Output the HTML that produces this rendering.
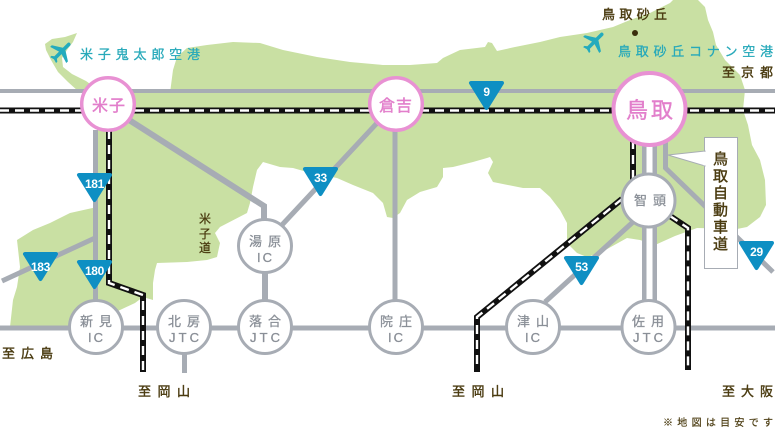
<!DOCTYPE html>
<html><head><meta charset="utf-8">
<style>
html,body{margin:0;padding:0;background:#fff;}
svg{display:block;}
text{font-family:"Liberation Sans","Noto Sans CJK JP",sans-serif;}
</style></head>
<body>
<svg width="775" height="427" viewBox="0 0 775 427" xmlns="http://www.w3.org/2000/svg">
<rect width="775" height="427" fill="#fff"/>
<!-- land -->
<g fill="#c9e0a3">
<path d="M97,93 L170,93 L173,70 L177,57 L187,48 L207,45 L233,42 L260,43 L283,50 L317,57 L350,62 L383,65 L410,65 L437,63 L443,58 L460,50 L485,47 L488,42 L492,43 L497,51 L515,47 L540,42 L560,37 L587,33 L613,27 L630,20 L650,13 L670,3 L673,0 L698,0 L705,7 L708,20 L713,32 L716,45 L725,60 L740,75 L745,90 L743,110 L748,125 L752,145 L760,160 L765,180 L766,205 L760,217 L747,227 L737,229 L697,228 L675,236 L655,245 L640,240 L627,238 L600,253 L587,257 L577,253 L567,243 L567,223 L560,210 L550,197 L540,188 L523,188 L493,182 L488,173 L493,162 L490,157 L487,158 L473,162 L453,167 L443,168 L443,177 L437,187 L420,192 L407,200 L400,213 L393,218 L387,217 L383,203 L373,193 L353,185 L337,178 L307,172 L293,168 L280,167 L263,162 L257,170 L253,187 L250,203 L247,213 L220,227 L215,233 L220,243 L217,257 L207,260 L187,262 L157,263 L155,270 L153,283 L153,300 L143,297 L135,303 L120,310 L100,320 L67,327 L10,327 L13,300 L17,287 L20,267 L17,240 L33,230 L50,223 L70,213 L97,207 Z"/>
<path d="M45,44 L52,39 L65,37 L77,33 L73,42 L67,50 L62,58 L63,67 L72,74 L86,81 L100,91 L78,91 L68,82 L58,72 L51,60 L46,50 Z"/>
</g>
<!-- roads -->
<g stroke="#a7acb4" fill="none" stroke-linejoin="miter">
<path d="M0,91 H775" stroke-width="4"/>
<path d="M0,328 H775" stroke-width="5"/>
<path d="M95.5,130 V300" stroke-width="5"/>
<path d="M2,281 L95,238" stroke-width="5"/>
<path d="M126,118 L264,206 V222" stroke-width="6"/>
<path d="M378,122 L281,226" stroke-width="5"/>
<path d="M395,130 V300" stroke-width="5"/>
<path d="M265,270 V302" stroke-width="6"/>
<path d="M184.5,350 V373" stroke-width="5"/>
<path d="M665.5,140 V168 L773,272" stroke-width="5"/>
<path d="M633,222 L545,302" stroke-width="5"/>
<path d="M649.5,140 V302" stroke-width="15"/>
</g>
<path d="M649.5,140 V302" stroke="#fff" stroke-width="6"/>
<!-- railways -->
<g fill="none" stroke-linejoin="miter">
<g stroke="#111" stroke-width="6">
<path d="M0,110.5 H775"/>
<path d="M109,130 V283 L143,295 V372"/>
<path d="M633,140 V185"/>
<path d="M622,199 L477,317 V372"/>
<path d="M670,216 L688,228 V370"/>
</g>
<g stroke="#fff" stroke-width="2.4" stroke-dasharray="9 6">
<path d="M0,110.5 H775"/>
<path d="M109,130 V283 L143,295 V370"/>
<path d="M633,140 V185"/>
<path d="M622,199 L477,317 V370"/>
<path d="M670,216 L688,228 V368"/>
</g>
</g>
<!-- callout -->
<rect x="704.5" y="137.5" width="33" height="131" fill="#fff" stroke="#a7acb4" stroke-width="1"/>
<polygon points="668,155 705,151 705,166" fill="#fff" stroke="#a7acb4" stroke-width="1"/>
<rect x="703.5" y="151.8" width="2" height="13.6" fill="#fff"/>
<g fill="#4a3b10" stroke="#4a3b10" stroke-width="0.4" font-size="15" text-anchor="middle">
<text x="720.5" y="164">鳥</text>
<text x="720.5" y="181">取</text>
<text x="720.5" y="198">自</text>
<text x="720.5" y="215">動</text>
<text x="720.5" y="232">車</text>
<text x="720.5" y="249">道</text>
</g>
<!-- circles -->
<g fill="#fff" stroke="#a7acb4" stroke-width="3">
<circle cx="648.5" cy="200.5" r="26.5"/>
<circle cx="96" cy="327" r="26.5"/>
<circle cx="184" cy="327" r="26.5"/>
<circle cx="265" cy="327" r="26.5"/>
<circle cx="265" cy="246" r="26.5"/>
<circle cx="396" cy="327" r="26.5"/>
<circle cx="533" cy="327" r="26.5"/>
<circle cx="648.5" cy="327" r="26.5"/>
</g>
<g fill="#fff" stroke="#e891d3">
<circle cx="108" cy="104" r="26.3" stroke-width="3.5"/>
<circle cx="396" cy="104" r="26.3" stroke-width="3.5"/>
<circle cx="649.5" cy="109" r="36" stroke-width="4"/>
</g>
<!-- pink labels -->
<g fill="#e27fcb" stroke="#e27fcb" stroke-width="0.4">
<text x="92" y="111" font-size="16" textLength="33" lengthAdjust="spacing">米子</text>
<text x="379" y="111" font-size="16" textLength="33" lengthAdjust="spacing">倉吉</text>
<text x="626" y="118" font-size="22" textLength="47" lengthAdjust="spacing">鳥取</text>
</g>
<!-- gray labels -->
<g fill="#8a8f97" stroke="#8a8f97" stroke-width="0.3" font-size="13">
<text x="634" y="205" textLength="32" lengthAdjust="spacing">智頭</text>
<text x="80" y="326" textLength="32" lengthAdjust="spacing">新見</text>
<text x="88" y="342" textLength="15" lengthAdjust="spacing">IC</text>
<text x="168" y="326" textLength="32" lengthAdjust="spacing">北房</text>
<text x="169" y="342" textLength="30" lengthAdjust="spacing">JTC</text>
<text x="249" y="326" textLength="32" lengthAdjust="spacing">落合</text>
<text x="250" y="342" textLength="30" lengthAdjust="spacing">JTC</text>
<text x="249" y="246" textLength="32" lengthAdjust="spacing">湯原</text>
<text x="257" y="262" textLength="15" lengthAdjust="spacing">IC</text>
<text x="380" y="326" textLength="32" lengthAdjust="spacing">院庄</text>
<text x="388" y="342" textLength="15" lengthAdjust="spacing">IC</text>
<text x="517" y="326" textLength="32" lengthAdjust="spacing">津山</text>
<text x="525" y="342" textLength="15" lengthAdjust="spacing">IC</text>
<text x="632" y="326" textLength="32" lengthAdjust="spacing">佐用</text>
<text x="633" y="342" textLength="30" lengthAdjust="spacing">JTC</text>
</g>
<!-- route markers -->
<g fill="#0e8fc3" stroke="#0e8fc3" stroke-width="4" stroke-linejoin="round">
<polygon points="79,175 110,175 94.5,200"/>
<polygon points="25,254 56,254 40.5,279"/>
<polygon points="79,262 110,262 94.5,287"/>
<polygon points="305,169 336,169 320.5,194"/>
<polygon points="471,83 502,83 486.5,108"/>
<polygon points="566,258 597,258 581.5,283"/>
<polygon points="741,243 772,243 756.5,268"/>
</g>
<g fill="#fff" font-size="12" font-weight="bold" text-anchor="middle" letter-spacing="-0.3">
<text x="94.5" y="188">181</text>
<text x="40.5" y="271">183</text>
<text x="94.5" y="275">180</text>
<text x="320.5" y="182">33</text>
<text x="486.5" y="96">9</text>
<text x="581.5" y="271">53</text>
<text x="756.5" y="256">29</text>
</g>
<!-- airplanes -->
<g fill="#24abbd">
<path transform="translate(62,52) rotate(45) scale(1.2) translate(-12,-12)" d="M21 16v-2l-8-5V3.5c0-.83-.67-1.5-1.5-1.5S10 2.67 10 3.5V9l-8 5v2l8-2.5V19l-2 1.5V22l3.5-1 3.5 1v-1.5L13 19v-5.5l8 2.5z"/>
<path transform="translate(595,42) rotate(45) scale(1.2) translate(-12,-12)" d="M21 16v-2l-8-5V3.5c0-.83-.67-1.5-1.5-1.5S10 2.67 10 3.5V9l-8 5v2l8-2.5V19l-2 1.5V22l3.5-1 3.5 1v-1.5L13 19v-5.5l8 2.5z"/>
</g>
<!-- teal labels -->
<g fill="#27a9ba" stroke="#27a9ba" stroke-width="0.3" font-size="13">
<text x="80" y="59" textLength="120" lengthAdjust="spacing">米子鬼太郎空港</text>
<text x="618" y="56" textLength="155" lengthAdjust="spacing">鳥取砂丘コナン空港</text>
</g>
<!-- brown labels -->
<circle cx="635" cy="33" r="3" fill="#3a2e0c"/>
<g fill="#4a3b10" stroke="#4a3b10" stroke-width="0.4" font-size="13">
<text x="602" y="19" textLength="65" lengthAdjust="spacing">鳥取砂丘</text>
<text x="722" y="77" textLength="51" lengthAdjust="spacing">至京都</text>
<text x="2" y="358" textLength="51" lengthAdjust="spacing">至広島</text>
<text x="138" y="396" textLength="52" lengthAdjust="spacing">至岡山</text>
<text x="452" y="396" textLength="52" lengthAdjust="spacing">至岡山</text>
<text x="722" y="396" textLength="51" lengthAdjust="spacing">至大阪</text>
<text x="663" y="426" font-size="10" stroke-width="0.2" textLength="110" lengthAdjust="spacing">※地図は目安です</text>
</g>
<g fill="#4a3b10" stroke="#4a3b10" stroke-width="0.3" font-size="12" text-anchor="middle">
<text x="205" y="223">米</text>
<text x="205" y="238">子</text>
<text x="205" y="252">道</text>
</g>
</svg>
</body></html>
